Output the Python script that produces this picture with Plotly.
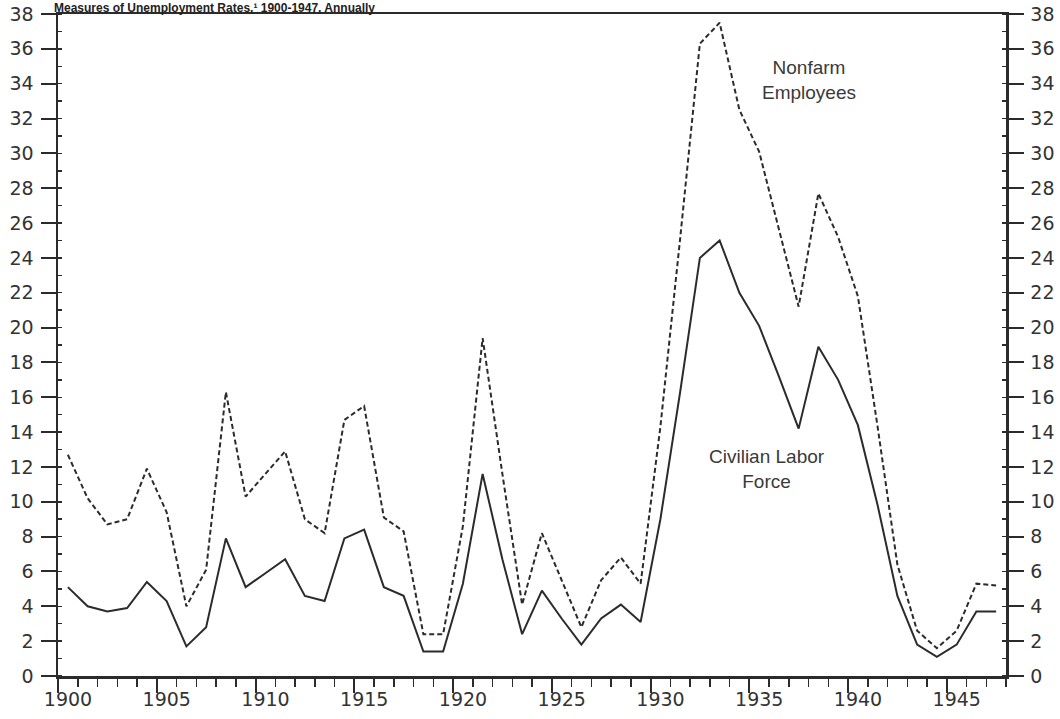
import plotly.graph_objects as go

# ---- data ----
years = list(range(1900, 1948))

civilian_labor_force = [
    5.1, 4.0, 3.7, 3.9, 5.4, 4.3, 1.7, 2.8, 7.9, 5.1,
    5.9, 6.7, 4.6, 4.3, 7.9, 8.4, 5.1, 4.6, 1.4, 1.4,
    5.3, 11.6, 6.7, 2.4, 4.9, 3.3, 1.8, 3.3, 4.1, 3.1,
    9.0, 16.3, 24.0, 25.0, 22.0, 20.1, 17.2, 14.2, 18.9, 17.0,
    14.4, 9.8, 4.6, 1.8, 1.1, 1.8, 3.7, 3.7,
]

nonfarm_employees = [
    12.7, 10.2, 8.7, 9.0, 11.9, 9.4, 4.0, 6.1, 16.3, 10.3,
    11.6, 12.9, 9.0, 8.2, 14.7, 15.5, 9.1, 8.3, 2.4, 2.4,
    8.6, 19.4, 11.6, 4.1, 8.2, 5.5, 2.8, 5.5, 6.8, 5.3,
    14.3, 25.1, 36.3, 37.5, 32.5, 30.1, 25.6, 21.2, 27.7, 25.2,
    21.8, 14.3, 6.4, 2.6, 1.6, 2.6, 5.3, 5.2,
]

x_tick_years = [1900, 1905, 1910, 1915, 1920, 1925, 1930, 1935, 1940, 1945]
y_tick_values = list(range(0, 39, 2))

title_text = "Measures of Unemployment Rates,\u00b9 1900-1947, Annually"

# annual values are plotted at mid-year
x_mid = [y + 0.5 for y in years]

INK = "#2b2b2b"
TICKFONT = dict(family="DejaVu Sans", size=19, color="#333333")
LABELFONT = dict(family="Liberation Sans", size=19, color="#3a3a3a")

FIG_W, FIG_H = 1060, 719
M_L, M_R, M_T, M_B = 58, 54, 14, 43

fig = go.Figure()

fig.add_trace(go.Scatter(
    x=x_mid, y=nonfarm_employees, mode="lines", name="Nonfarm Employees",
    line=dict(color=INK, width=2, dash="5px,3px"), showlegend=False,
))
fig.add_trace(go.Scatter(
    x=x_mid, y=civilian_labor_force, mode="lines", name="Civilian Labor Force",
    line=dict(color=INK, width=2), showlegend=False,
))
# invisible trace so the right-hand axis is drawn
fig.add_trace(go.Scatter(
    x=[None], y=[None], yaxis="y2", showlegend=False, hoverinfo="skip",
))

yaxis_common = dict(
    range=[0, 38],
    tickvals=y_tick_values,
    ticktext=[str(v) for v in y_tick_values],
    ticks="outside", ticklen=15, tickwidth=2, tickcolor=INK,
    minor=dict(dtick=1, tick0=0, ticks="inside", ticklen=4, tickwidth=1.5, tickcolor=INK),
    showline=True, linewidth=2.5, linecolor=INK,
    showgrid=False, zeroline=False,
    tickfont=TICKFONT,
    ticklabelstandoff=3,
    ticklabeloverflow="allow",
    automargin=False,
    fixedrange=True,
)

plot_w = FIG_W - M_L - M_R
plot_h = FIG_H - M_T - M_B

fig.update_layout(
    width=FIG_W, height=FIG_H,
    margin=dict(l=M_L, r=M_R, t=M_T, b=M_B, autoexpand=False),
    paper_bgcolor="white", plot_bgcolor="white",
    hovermode=False,
    xaxis=dict(
        range=[1900, 1948],
        tickvals=x_tick_years,
        ticktext=[str(v) for v in x_tick_years],
        ticks="outside", ticklen=14, tickwidth=2, tickcolor=INK,
        minor=dict(dtick=1, tick0=1900, ticks="outside", ticklen=8, tickwidth=1.5, tickcolor=INK),
        showline=True, linewidth=2.5, linecolor=INK, mirror=True,
        showgrid=False, zeroline=False,
        tickfont=TICKFONT,
        ticklabelshift=10,
        ticklabelstandoff=-9,
        ticklabeloverflow="allow",
        automargin=False,
        fixedrange=True,
    ),
    yaxis=dict(**yaxis_common, side="left"),
    yaxis2=dict(**yaxis_common, side="right", overlaying="y", anchor="x"),
    annotations=[
        dict(text="Nonfarm<br>Employees", x=1938.0, y=34.2, xref="x", yref="y",
             showarrow=False, xanchor="center", yanchor="middle", font=LABELFONT),
        dict(text="Civilian Labor<br>Force", x=1935.9, y=11.9, xref="x", yref="y",
             showarrow=False, xanchor="center", yanchor="middle", font=LABELFONT),
        dict(text="<b>" + title_text + "</b>",
             x=-5 / plot_w, y=1 + M_T / plot_h, xref="paper", yref="paper",
             xanchor="left", yanchor="top", showarrow=False, borderpad=0,
             font=dict(family="Liberation Sans", size=12, color="#222222")),
    ],
)

# remove the browser's default body margin so the figure sits at the window origin
fig.write_html(
    "out.html",
    config={"displayModeBar": False, "staticPlot": True},
    post_script="document.body.style.margin='0';document.body.style.padding='0';"
                "document.documentElement.style.overflow='hidden';",
)
